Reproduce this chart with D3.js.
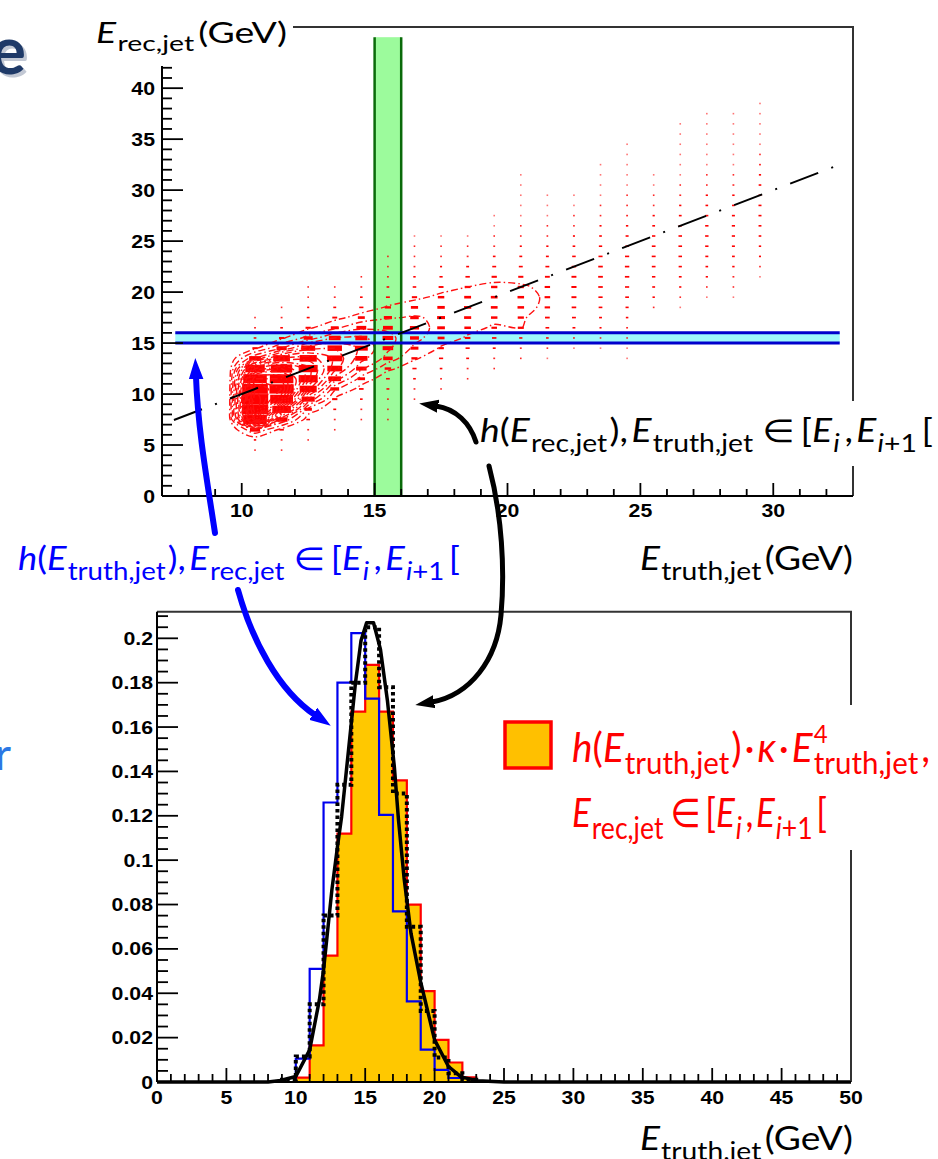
<!DOCTYPE html>
<html><head><meta charset="utf-8">
<script src="https://cdn.jsdelivr.net/npm/d3@7"></script>
<style>html,body{margin:0;padding:0;background:#fff;}svg{display:block;}</style>
</head><body>
<svg id="c" width="938" height="1159" xmlns="http://www.w3.org/2000/svg"></svg>
<script>
// ================= DATA =================
// top panel: 2D histogram (1 GeV x 1 GeV cells), counts per truth column, rows start at given rec bin
const scatterX = [10.5,11.5,12.5,13.5,14.5,15.5,16.5,17.5,18.5,19.5,20.5,21.5,22.5,23.5,24.5,25.5,26.5,27.5,28.5,29.5];
const scatterRowStart = [4,4,5,6,7,7,9,10,11,12,13,13,14,14,13,18,18,19,19,21];
const scatterCounts = [
  [3,8,150,800,1000,1000,950,800,550,200,40,10,5,3],
  [3,5,30,200,500,750,850,800,650,400,150,40,10,5,3],
  [3,5,20,80,250,420,520,520,430,280,120,40,12,6,3,3],
  [3,5,12,40,110,230,320,340,300,200,90,35,12,5,3],
  [3,5,10,30,80,160,220,240,210,140,70,25,10,5,3],
  [3,3,5,12,20,60,130,160,165,140,95,55,22,10,5,3,3],
  [3,5,10,25,55,90,115,120,105,75,40,18,8,5,3,3,2],
  [3,5,10,25,45,70,85,90,80,60,35,15,6,4,3,2],
  [3,5,12,25,45,62,72,75,68,50,28,12,5,3,2],
  [3,5,12,28,45,60,66,66,58,40,22,10,5,3,2,2],
  [3,5,15,52,55,62,62,55,38,22,12,6,4,3,2,2,2,1,1],
  [2,4,10,20,32,42,45,42,34,22,12,7,4,3,2,2,1],
  [2,5,12,22,30,36,38,35,28,18,10,6,4,3,2,1],
  [2,3,6,12,20,26,30,32,30,24,16,10,6,4,3,2,2,1,1],
  [1,2,3,5,9,14,20,25,28,28,25,19,13,8,5,4,3,2,2,1,1,1],
  [4,8,12,17,20,22,20,16,11,7,4,3,2,1],
  [2,4,7,11,15,18,19,18,15,11,7,5,3,2,2,1,1,1,1],
  [2,4,7,10,13,16,17,16,13,10,7,4,3,2,2,1,1,1,1],
  [1,3,5,8,11,13,15,15,13,11,8,5,3,2,2,1,1,1,1],
  [2,4,6,8,10,12,13,13,12,10,7,5,3,2,1,1,1,1]
];
const contourLevels = [50,100,150,200,250,300,350,400,450,500,550,600,650,700,750,800,850,900,950];
const truthBand = [15, 16];          // E_truth bin (green)
const truthBandRec = [0, 45];
const recBand = [15, 16];            // E_rec bin (cyan)
const recBandTruth = [7.5, 32.5];
const diagonalX = [7.45, 32.4];      // E_rec = E_truth
const topXTicks = [10,15,20,25,30];
const topYTicks = [0,5,10,15,20,25,30,35,40];

// bottom panel: histograms (1 GeV bins), lower edges + contents
const redBinLo  = [10,11,12,13,14,15,16,17,18,19,20,21,22];
const redValues = [0.002,0.0165,0.057,0.112,0.167,0.188,0.167,0.136,0.080,0.041,0.019,0.0088,0.0021];
const blueBinLo  = [10,11,12,13,14,15,16,17,18,19,20,21];
const blueValues = [0.0105,0.051,0.126,0.180,0.2023,0.1728,0.1204,0.0769,0.0363,0.0146,0.0055,0.0018];
const dotBinLo  = [9,10,11,12,13,14,15,16,17,18,19,20,21,22];
const dotValues = [0.001,0.0115,0.035,0.075,0.134,0.18,0.205,0.178,0.13,0.07,0.032,0.011,0.004,0.001];
const curveX = [0,8,8.9,10.0,11.0,11.7,12.0,12.6,13.0,13.3,13.8,14.3,14.7,15.1,15.6,16.1,16.6,17.1,17.4,17.8,18.3,19.0,20.0,21.0,21.9,23.1,25,50];
const curveY = [0,0,0.0007,0.0025,0.0145,0.037,0.0506,0.0866,0.106,0.1196,0.1497,0.18,0.199,0.207,0.207,0.195,0.172,0.142,0.118,0.092,0.067,0.045,0.019,0.007,0.0023,0.0006,0,0];
const lowXTicks = [0,5,10,15,20,25,30,35,40,45,50];
const lowYTicks = [0,0.02,0.04,0.06,0.08,0.1,0.12,0.14,0.16,0.18,0.2];
const lowYTickLabels = ['0','0.02','0.04','0.06','0.08','0.1','0.12','0.14','0.16','0.18','0.2'];

// ================= DRAW =================
const svg = d3.select('#c');
const xT = d3.scaleLinear().domain([7,33]).range([162,853]);
const yT = d3.scaleLinear().domain([0,46]).range([496,27]);
const xB = d3.scaleLinear().domain([0,50]).range([157,851]);
const yB = d3.scaleLinear().domain([0,0.212]).range([1082,611.7]);

const defs = svg.append('defs');
defs.append('clipPath').attr('id','clipTop').append('rect')
  .attr('x',xT(7)).attr('y',yT(46)).attr('width',xT(33)-xT(7)).attr('height',yT(0)-yT(46));

const TICKFONT = '"Liberation Sans", Arial, Helvetica, sans-serif';
function tickText(g, x, y, txt, anchor){
  g.append('text').attr('transform',`translate(${x},${y}) scale(1.15,1)`)
   .attr('text-anchor',anchor).attr('font-family',TICKFONT).attr('font-weight','bold')
   .attr('font-size',18.5).attr('fill','#000').text(txt);
}

// ---------- top panel ----------
const gTop = svg.append('g');
gTop.append('rect').attr('x',xT(truthBand[0])).attr('width',xT(truthBand[1])-xT(truthBand[0]))
  .attr('y',yT(truthBandRec[1])).attr('height',yT(truthBandRec[0])-yT(truthBandRec[1])).attr('fill','#9cfb9c');
gTop.append('rect').attr('x',xT(recBandTruth[0])).attr('width',xT(recBandTruth[1])-xT(recBandTruth[0]))
  .attr('y',yT(recBand[1])).attr('height',yT(recBand[0])-yT(recBand[1])).attr('fill','#9ff9fb');

const cells = [];
scatterX.forEach((xc,k)=>scatterCounts[k].forEach((c,r)=>cells.push({x:xc, y:scatterRowStart[k]+r+0.5, c})));
const cmax = d3.max(cells, d=>d.c);
const bw = xT(1)-xT(0), bh = yT(0)-yT(1);
gTop.append('g').attr('clip-path','url(#clipTop)').selectAll('rect').data(cells).join('rect')
  .each(function(d){
    const s = Math.sqrt(d.c/cmax);
    const w = Math.max(1.6, bw*s*0.99), h = Math.max(1.6, bh*s*0.99);
    d3.select(this).attr('x',xT(d.x)-w/2).attr('y',yT(d.y)-h/2).attr('width',w).attr('height',h);
  })
  .attr('fill','#ff0000').attr('opacity',d=>d.c<3?0.55:(d.c<6?0.85:1));

// contours
const nx = 26, ny = 46;
const grid = new Array(nx*ny).fill(0);
cells.forEach(d=>{ const i=Math.floor(d.x-7), j=Math.floor(d.y); grid[j*nx+i]=d.c; });
const conts = d3.contours().size([nx,ny]).thresholds(contourLevels)(grid);
const ringLine = d3.line().x(p=>xT(7+p[0])).y(p=>yT(p[1])).curve(d3.curveCatmullRomClosed.alpha(0.5));
const gC = gTop.append('g').attr('clip-path','url(#clipTop)');
conts.forEach(c=>c.coordinates.forEach(poly=>poly.forEach(ring=>{
  gC.append('path').attr('d',ringLine(ring.slice(0,-1))).attr('fill','none')
    .attr('stroke','#ff1010').attr('stroke-width',1.4).attr('stroke-dasharray','7,3,1.5,3');
})));

// band borders
truthBand.forEach(v=>gTop.append('line').attr('x1',xT(v)).attr('x2',xT(v)).attr('y1',yT(truthBandRec[0])).attr('y2',yT(truthBandRec[1]))
  .attr('stroke','#0a6a0a').attr('stroke-width',2.5));
recBand.forEach(v=>gTop.append('line').attr('x1',xT(recBandTruth[0])).attr('x2',xT(recBandTruth[1])).attr('y1',yT(v)).attr('y2',yT(v))
  .attr('stroke','#0000cc').attr('stroke-width',3));
// diagonal
gTop.append('path').attr('d',d3.line().x(v=>xT(v)).y(v=>yT(v))(diagonalX)).attr('stroke','#000').attr('stroke-width',2)
  .attr('fill','none').attr('stroke-dasharray','30,14,2,14');

// frame + axes (top)
gTop.append('path').attr('d',`M${xT(7)},${yT(46)}H${xT(33)}V${yT(0)}`).attr('fill','none').attr('stroke','#333').attr('stroke-width',2);
gTop.append('line').attr('x1',xT(7)).attr('x2',xT(33)).attr('y1',yT(0)).attr('y2',yT(0)).attr('stroke','#000').attr('stroke-width',2);
gTop.append('line').attr('x1',xT(7)).attr('x2',xT(7)).attr('y1',yT(0)).attr('y2',yT(46)).attr('stroke','#000').attr('stroke-width',2);
d3.range(8,33,1).forEach(v=>{
  const major = topXTicks.includes(v);
  gTop.append('line').attr('x1',xT(v)).attr('x2',xT(v)).attr('y1',yT(0)).attr('y2',yT(0)-(major?13:7)).attr('stroke','#000').attr('stroke-width',1.8);
});
d3.range(1,43,1).forEach(v=>{
  const major = topYTicks.includes(v);
  gTop.append('line').attr('x1',xT(7)).attr('x2',xT(7)+(major?21:10)).attr('y1',yT(v)).attr('y2',yT(v)).attr('stroke','#000').attr('stroke-width',1.8);
});
topXTicks.forEach(v=>tickText(gTop, xT(v), yT(0)+21, String(v), 'middle'));
topYTicks.forEach(v=>tickText(gTop, xT(7)-7, yT(v)+6.5, String(v), 'end'));

// ---------- bottom panel ----------
const gB = svg.append('g');
function histPts(lo, vals){ const p=[[lo[0],0]]; lo.forEach((l,i)=>p.push([l,vals[i]])); p.push([lo[lo.length-1]+1,0]); return p; }
const stepLine = d3.line().x(p=>xB(p[0])).y(p=>yB(p[1])).curve(d3.curveStepAfter);
const stepArea = d3.area().x(p=>xB(p[0])).y0(yB(0)).y1(p=>yB(p[1])).curve(d3.curveStepAfter);
const redPts = histPts(redBinLo, redValues);
gB.append('path').attr('d',stepArea(redPts)).attr('fill','#ffc800');
gB.append('path').attr('d',stepLine(redPts)).attr('fill','none').attr('stroke','#ff0000').attr('stroke-width',2.2);
gB.append('path').attr('d',stepLine(histPts(blueBinLo, blueValues))).attr('fill','none').attr('stroke','#0000ee').attr('stroke-width',2.2);
gB.append('path').attr('d',stepLine(histPts(dotBinLo, dotValues))).attr('fill','none').attr('stroke','#000').attr('stroke-width',4).attr('stroke-dasharray','3.5,3');
gB.append('path').attr('d',d3.line().x((v,i)=>xB(v)).y((v,i)=>yB(curveY[i]))(curveX)).attr('fill','none').attr('stroke','#000').attr('stroke-width',3.5).attr('stroke-linejoin','round');

gB.append('path').attr('d',`M${xB(0)},${yB(0.212)}H${xB(50)}V${yB(0)}`).attr('fill','none').attr('stroke','#333').attr('stroke-width',2);
gB.append('line').attr('x1',xB(0)).attr('x2',xB(50)).attr('y1',yB(0)).attr('y2',yB(0)).attr('stroke','#000').attr('stroke-width',2);
gB.append('line').attr('x1',xB(0)).attr('x2',xB(0)).attr('y1',yB(0)).attr('y2',yB(0.212)).attr('stroke','#000').attr('stroke-width',2);
d3.range(1,50,1).forEach(v=>{
  const major = lowXTicks.includes(v);
  gB.append('line').attr('x1',xB(v)).attr('x2',xB(v)).attr('y1',yB(0)).attr('y2',yB(0)-(major?14:8)).attr('stroke','#000').attr('stroke-width',1.8);
});
d3.range(1,43,1).forEach(k=>{
  const v = k*0.005, major = (k%4===0);
  gB.append('line').attr('x1',xB(0)).attr('x2',xB(0)+(major?21:11)).attr('y1',yB(v)).attr('y2',yB(v)).attr('stroke','#000').attr('stroke-width',1.8);
});
lowXTicks.forEach(v=>tickText(gB, xB(v), yB(0)+21.5, String(v), 'middle'));
lowYTicks.forEach((v,i)=>tickText(gB, xB(0)-4, yB(v)+6.5, lowYTickLabels[i], 'end'));

// ---------- white label backgrounds ----------
svg.append('rect').attr('x',85).attr('y',0).attr('width',208).attr('height',66).attr('fill','#fff');
svg.append('rect').attr('x',470).attr('y',401).attr('width',468).attr('height',65).attr('fill','#fff');
svg.append('rect').attr('x',500).attr('y',705).attr('width',438).attr('height',145).attr('fill','#fff');

// ---------- math labels ----------
const MFONT = 'Lato, "Open Sans", "DejaVu Sans", sans-serif';
function mathLabel(segs, o){
  const g = svg.append('g');
  const t = g.append('text').attr('font-family',MFONT).attr('fill',o.color).attr('font-size',o.size);
  const S=o.size, subS=S*0.76, subOff=S*0.30, supOff=S*0.48;
  let shift=0, prev=null;
  segs.forEach(seg=>{
    const [txt, kind, extra] = seg;
    let target=0, fs=S;
    if (kind==='si'||kind==='sn'){ target=subOff; fs=subS; }
    if (kind==='sup'){ target=-supOff; fs=S*0.62; }
    const ts = t.append('tspan').text(txt).attr('font-size',fs).attr('dy',target-shift);
    shift=target;
    if (kind==='i'||kind==='si') ts.attr('font-style','italic');
    if (extra==='back' && prev) ts.attr('dx', -prev.node().getComputedTextLength());
    else if (typeof extra==='number') ts.attr('dx', extra);
    prev = ts;
  });
  const bb = t.node().getBBox();
  const s = (o.right-o.left)/bb.width;
  g.attr('transform',`translate(${o.left - bb.x*s},${o.base}) scale(${s},1)`);
}
const intervalSegs = [['∈','n',8],['[','n',5],['E','i'],['i','si',1],[',','n',4],['E','i',3],['i','si',1],['+1','sn'],['[','n',4]];
mathLabel([['E','i'],['rec,jet','sn',1],['(GeV)','n',3]], {left:96,right:287,base:43,size:28,color:'#000'});
mathLabel([['h','i'],['(','n'],['E','i'],['rec,jet','sn',1],[')','n',2],[',','n'],['E','i',3],['truth,jet','sn',1]].concat(intervalSegs),
  {left:480,right:933,base:442,size:32,color:'#000'});
mathLabel([['h','i'],['(','n'],['E','i'],['truth,jet','sn',1],[')','n',2],[',','n'],['E','i',3],['rec,jet','sn',1]].concat(intervalSegs),
  {left:18,right:460,base:570,size:32,color:'#0000ff'});
mathLabel([['E','i'],['truth,jet','sn',1],['(GeV)','n',3]], {left:640,right:853,base:570,size:32,color:'#000'});
mathLabel([['E','i'],['truth,jet','sn',1],['(GeV)','n',3]], {left:640,right:853,base:1150,size:33,color:'#000'});
mathLabel([['h','i'],['(','n'],['E','i'],['truth,jet','sn',1],[')','n',2],['·','n',3],['κ','i',3],['·','n',3],['E','i',3],['4','sup',1],['truth,jet','sn','back'],[',','n',3]],
  {left:572,right:930,base:762,size:40,color:'#ff0000'});
mathLabel([['E','i'],['rec,jet','sn',1]].concat(intervalSegs),
  {left:572,right:827,base:827,size:40,color:'#ff0000'});

// legend box
svg.append('rect').attr('x',505).attr('y',722).attr('width',46).attr('height',46).attr('fill','#ffc000').attr('stroke','#ff0000').attr('stroke-width',3.5);

// cropped slide text
svg.append('text').attr('x',29).attr('y',77).attr('text-anchor','end').attr('font-family',MFONT).attr('font-weight','bold')
  .attr('font-size',66).attr('fill','#9aa4b8').attr('opacity',0.6).text('e');
svg.append('text').attr('x',26).attr('y',74).attr('text-anchor','end').attr('font-family',MFONT).attr('font-weight','bold')
  .attr('font-size',66).attr('fill','#1f3a68').text('e');
svg.append('text').attr('x',11).attr('y',770).attr('text-anchor','end').attr('font-family',MFONT)
  .attr('font-size',44).attr('fill','#2b78e4').text('r');

// ---------- annotation arrows ----------
function arrow(d, color, width, L, Wd){
  const id = 'ah'+Math.random().toString(36).slice(2,8);
  defs.append('marker').attr('id',id).attr('markerUnits','userSpaceOnUse').attr('orient','auto')
    .attr('markerWidth',L+4).attr('markerHeight',Wd+4).attr('viewBox',`-2 ${-Wd/2-2} ${L+4} ${Wd+4}`)
    .attr('refX',0).attr('refY',0)
    .append('path').attr('d',`M${-L*0.25},0 L${-L*0.45},${-Wd/2} L${L},0 L${-L*0.45},${Wd/2} Z`).attr('fill',color);
  svg.append('path').attr('d',d).attr('fill','none').attr('stroke',color).attr('stroke-width',width)
    .attr('stroke-linecap','round').attr('marker-end',`url(#${id})`);
}
arrow('M215,533 C207,480 198,430 196,377', '#0000ff', 6, 19, 19);
arrow('M238,590 C252,640 278,690 315,715', '#0000ff', 6, 19, 19);
arrow('M476,442 C470,423 456,409 436,406', '#000', 5, 17, 17);
arrow('M489,466 C502,515 505,570 501,615 C497,660 470,695 432,702', '#000', 5, 17, 17);
</script>
</body></html>
